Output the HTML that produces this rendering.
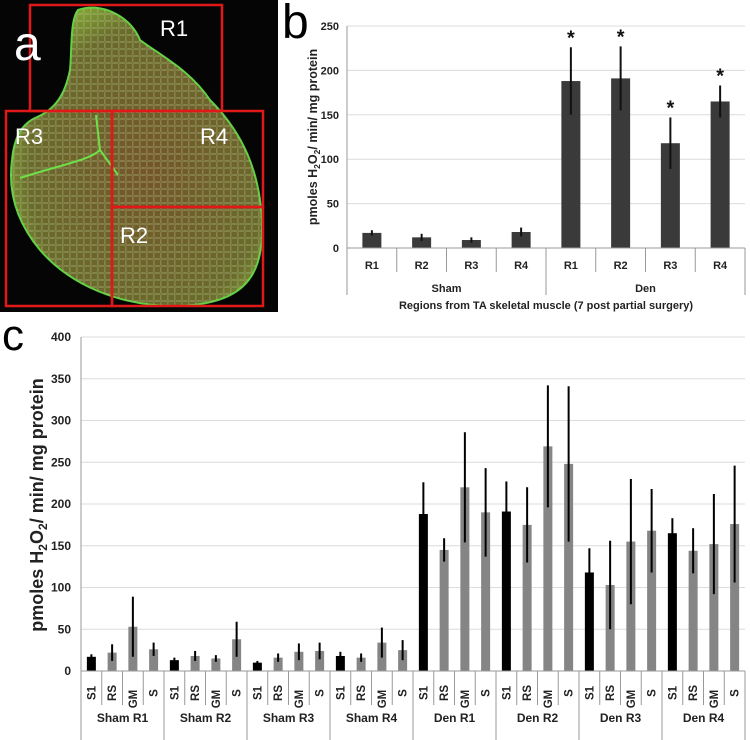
<!DOCTYPE html>
<html><head><meta charset="utf-8"><style>
body{margin:0;background:#fff;width:750px;height:740px;overflow:hidden;font-family:"Liberation Sans",sans-serif}
svg{position:absolute;left:0;top:0}
</style></head><body>
<svg width="750" height="740">
<g>
<rect x="0" y="0" width="278" height="312" fill="#050505"/>
<defs>
<radialGradient id="tg" cx="0.55" cy="0.55" r="0.6"><stop offset="0" stop-color="#74552a"/><stop offset="0.8" stop-color="#6a6a2c"/><stop offset="1" stop-color="#80a034"/></radialGradient>
<pattern id="mesh" width="7" height="7" patternUnits="userSpaceOnUse"><path d="M0,0 L7,1 L6,7 L0,6 Z" fill="none" stroke="#b8c890" stroke-width="0.6" opacity="0.55"/></pattern>
<clipPath id="blobclip"><path d="M78,10 C100,2 130,15 140,40 C160,55 190,70 210,100 C240,130 262,170 262,230 C262,280 240,305 175,306 C120,306 70,285 40,250 C15,220 8,190 12,160 C14,140 20,125 35,118 C55,110 65,95 70,70 C72,50 70,20 78,10 Z"/></clipPath>
</defs>
<path d="M78,10 C100,2 130,15 140,40 C160,55 190,70 210,100 C240,130 262,170 262,230 C262,280 240,305 175,306 C120,306 70,285 40,250 C15,220 8,190 12,160 C14,140 20,125 35,118 C55,110 65,95 70,70 C72,50 70,20 78,10 Z" fill="url(#tg)" stroke="#5fd040" stroke-width="2"/>
<rect x="0" y="0" width="278" height="312" fill="url(#mesh)" clip-path="url(#blobclip)"/>
<path d="M20,178 C60,165 90,160 100,150 M96,115 L100,150 L118,175" stroke="#6ee048" stroke-width="2" fill="none"/>
<g fill="none" stroke="#e01818" stroke-width="2.5">
<rect x="30" y="5" width="192" height="106"/>
<rect x="6" y="111" width="106" height="195"/>
<rect x="112" y="111" width="151" height="96"/>
<rect x="112" y="207" width="151" height="99"/>
</g>
<g fill="#fff" font-size="22">
<text x="160" y="36">R1</text>
<text x="15" y="144">R3</text>
<text x="200" y="144">R4</text>
<text x="120" y="243">R2</text>
<text x="14" y="60" font-size="48">a</text>
</g>
</g>
<text x="282" y="38" font-size="48">b</text>
<text x="2" y="350" font-size="44">c</text>
<g id="b"></g>
<g id="c"></g>
</svg>
<script>
const NS="http://www.w3.org/2000/svg";
function mk(p,t,a,txt){const e=document.createElementNS(NS,t);for(const k in a)e.setAttribute(k,a[k]);if(txt!==undefined)e.textContent=txt;p.appendChild(e);return e;}

// Panel b data
const bCats=["R1","R2","R3","R4","R1","R2","R3","R4"];
const bGroups=["Sham","Den"];
const bVals=[17,12,9,18,188,191,118,165];
const bErr=[3,4,3,5,38,36,29,18];
const bSig=[false,false,false,false,true,true,true,true];
const bTicks=[0,50,100,150,200,250];

// Panel c data
const cGroups=["Sham R1","Sham R2","Sham R3","Sham R4","Den R1","Den R2","Den R3","Den R4"];
const cSub=["S1","RS","GM","S"];
const cVals=[17,22,53,26, 13,18,15,38, 10,16,23,24, 18,16,34,25, 188,145,220,190, 191,175,269,248, 118,103,155,168, 165,144,152,176];
const cErr=[3,10,36,8, 3,6,4,21, 2,5,10,10, 5,5,18,12, 38,14,66,53, 36,45,73,93, 29,53,75,50, 18,27,60,70];
const cTicks=[0,50,100,150,200,250,300,350,400];

(function(){
const g=document.getElementById('b');
const x0=347,x1=745,y0=248,yT=26,max=250;
const y=v=>y0-(v/max)*(y0-yT);
const n=bCats.length,w=(x1-x0)/n;
bTicks.forEach(t=>{
 if(t>0){const l=mk(g,'line',{x1:x0,x2:x1,y1:y(t),y2:y(t),stroke:'#dcdcdc','stroke-width':1});
 }
 const tx=mk(g,'text',{x:x0-8,y:y(t)+4,'text-anchor':'end','font-size':11,'font-weight':'bold',fill:'#222'},t);
 
});
bVals.forEach((v,i)=>{
 const cx=x0+w*(i+0.5);
 const r=mk(g,'rect',{x:cx-9.5,y:y(v),width:19,height:y0-y(v),fill:'#3a3a3a'});
 
 const e=mk(g,'line',{x1:cx,x2:cx,y1:y(v+bErr[i]),y2:y(Math.max(0,v-bErr[i])),stroke:'#111','stroke-width':2});
 
 if(bSig[i]){const s=mk(g,'text',{x:cx,y:y(v+bErr[i])-3,'text-anchor':'middle','font-size':20,'font-weight':'bold',fill:'#111'},'*');
 }
 const tl=mk(g,'text',{x:cx,y:269,'text-anchor':'middle','font-size':11,'font-weight':'bold',fill:'#222'},bCats[i]);
 
});
const ax=mk(g,'line',{x1:x0,x2:x0,y1:yT,y2:y0,stroke:'#999'});
const bx=mk(g,'line',{x1:x0,x2:x1,y1:y0,y2:y0,stroke:'#999'});
for(let i=0;i<=n;i++){const xx=x0+w*i;const long=(i%4===0);
 const l=mk(g,'line',{x1:xx,x2:xx,y1:y0,y2:long?295:272,stroke:'#999'});}
bGroups.forEach((gn,i)=>{const t=mk(g,'text',{x:x0+w*(i*4+2),y:292,'text-anchor':'middle','font-size':11,'font-weight':'bold',fill:'#222'},gn);
 });
const tt=mk(g,'text',{x:(x0+x1)/2,y:309,'text-anchor':'middle','font-size':11,'font-weight':'bold',fill:'#222'},'Regions from TA skeletal muscle (7 post partial surgery)');

const yt=mk(g,'text',{transform:'translate(317,137) rotate(-90)','text-anchor':'middle','font-size':12.5,'font-weight':'bold',fill:'#222'});
yt.innerHTML='pmoles H<tspan font-size="8.5" dy="3">2</tspan><tspan dy="-3">O</tspan><tspan font-size="8.5" dy="3">2</tspan><tspan dy="-3">/ min/ mg protein</tspan>';

})();

(function(){
const g=document.getElementById('c');
const x0=81,x1=745,y0=671,yT=337,max=400;
const y=v=>y0-(v/max)*(y0-yT);
const n=cVals.length,w=(x1-x0)/n;
cTicks.forEach(t=>{
 if(t>0){const l=mk(g,'line',{x1:x0,x2:x1,y1:y(t),y2:y(t),stroke:'#dcdcdc'});
 }
 const tx=mk(g,'text',{x:x0-10,y:y(t)+4,'text-anchor':'end','font-size':12,'font-weight':'bold',fill:'#222'},t);
 
});
cVals.forEach((v,i)=>{
 const cx=x0+w*(i+0.5);const s=i%4;
 const r=mk(g,'rect',{x:cx-4.5,y:y(v),width:9,height:y0-y(v),fill:s===0?'#000':'#858585'});
 
 const e=mk(g,'line',{x1:cx,x2:cx,y1:y(v+cErr[i]),y2:y(Math.max(0,v-cErr[i])),stroke:'#000','stroke-width':2});
 
 const tl=mk(g,'text',{transform:`translate(${cx+4},${s===2?699:693}) rotate(-90)`,'text-anchor':'middle','font-size':11.5,'font-weight':'bold',fill:'#222'},cSub[s]);
 
});
const ax=mk(g,'line',{x1:x0,x2:x0,y1:yT,y2:y0,stroke:'#999'});
const bx=mk(g,'line',{x1:x0,x2:x1,y1:y0,y2:y0,stroke:'#999'});
for(let i=0;i<=n;i++){const xx=x0+w*i;const long=(i%4===0);
 const l=mk(g,'line',{x1:xx,x2:xx,y1:y0,y2:long?740:705,stroke:'#999'});}
cGroups.forEach((gn,i)=>{const t=mk(g,'text',{x:x0+w*(i*4+2),y:722,'text-anchor':'middle','font-size':12,'font-weight':'bold',fill:'#222'},gn);
 });
const yt=mk(g,'text',{transform:'translate(43,505) rotate(-90)','text-anchor':'middle','font-size':18,'font-weight':'bold',fill:'#222'});
yt.innerHTML='pmoles H<tspan font-size="12" dy="4">2</tspan><tspan dy="-4">O</tspan><tspan font-size="12" dy="4">2</tspan><tspan dy="-4">/ min/ mg protein</tspan>';

})();
</script>
</body></html>
